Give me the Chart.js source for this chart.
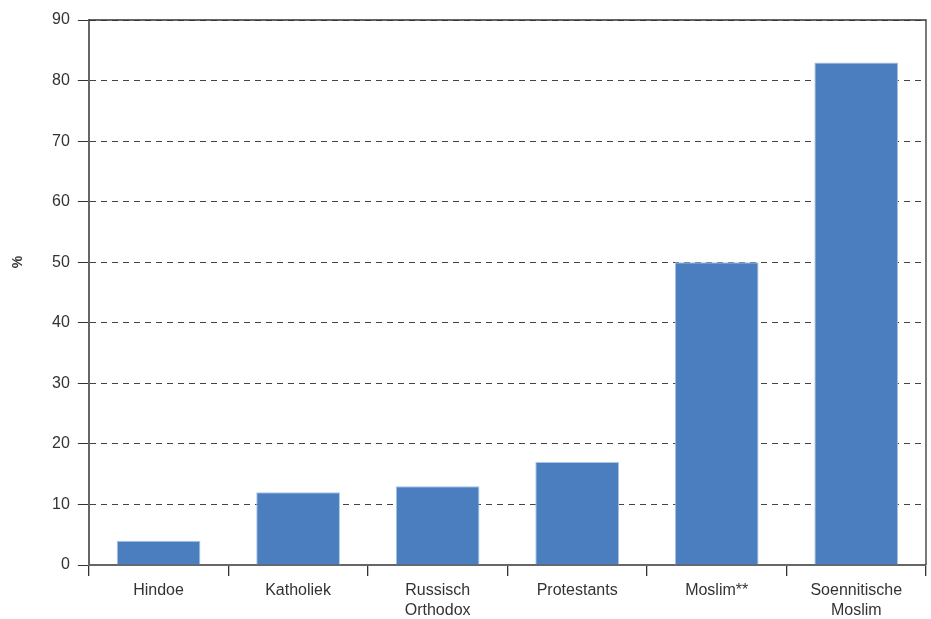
<!DOCTYPE html>
<html>
<head>
<meta charset="utf-8">
<script src="https://cdn.jsdelivr.net/npm/chart.js@4"></script>
<style>
html,body{margin:0;padding:0;background:#fff;}
#wrap{width:931px;height:619px;position:relative;}
</style>
</head>
<body>
<div id="wrap"><canvas id="c" width="931" height="619"></canvas></div>
<script>
const categories = ["Hindoe", "Katholiek", ["Russisch", "Orthodox"], "Protestants", "Moslim**", ["Soennitische", "Moslim"]];
const values = [4, 12, 13, 17, 50, 83];
const yTicks = [0, 10, 20, 30, 40, 50, 60, 70, 80, 90];
const yTitle = "%";

const frame = {
  id: 'frame',
  afterDatasetsDraw(chart) {
    const {ctx, chartArea: a} = chart;
    ctx.save();
    ctx.strokeStyle = '#333';
    ctx.lineWidth = 1.3;
    ctx.beginPath();
    ctx.moveTo(a.left, a.top);
    ctx.lineTo(a.right, a.top);
    ctx.lineTo(a.right, a.bottom);
    ctx.stroke();
    // y axis title
    ctx.translate(18, 262);
    ctx.rotate(-Math.PI / 2);
    ctx.fillStyle = '#333';
    ctx.font = 'bold 14px "Liberation Sans", Arial, sans-serif';
    ctx.textAlign = 'center';
    ctx.textBaseline = 'middle';
    ctx.fillText(yTitle, 0, 0);
    ctx.restore();
  }
};

new Chart(document.getElementById('c'), {
  type: 'bar',
  data: {
    labels: categories,
    datasets: [{
      data: values,
      backgroundColor: '#4a7ebf',
      borderColor: '#a9c4e4',
      borderWidth: 1,
      categoryPercentage: 0.6,
      barPercentage: 1.0
    }]
  },
  options: {
    responsive: false,
    animation: false,
    devicePixelRatio: 1,
    layout: {padding: {top: 20, right: 5, left: 44, bottom: -7}},
    plugins: {legend: {display: false}, tooltip: {enabled: false}},
    scales: {
      x: {
        grid: {offset: true, drawOnChartArea: false, drawTicks: true, tickLength: 11, color: '#333', lineWidth: 1.3},
        border: {display: true, color: '#666', width: 2},
        ticks: {color: '#333', font: {family: 'Liberation Sans, Arial, sans-serif', size: 16, lineHeight: 1.25}, padding: 5, maxRotation: 0, autoSkip: false}
      },
      y: {
        min: 0, max: 90,
        afterBuildTicks(axis) { axis.ticks = yTicks.map(v => ({value: v})); },
        grid: {color: '#444', lineWidth: 1, drawTicks: true, tickLength: 11, tickBorderDash: [], tickColor: '#333'},
        border: {display: true, color: '#666', width: 2, dash: [6, 5]},
        ticks: {color: '#333', font: {family: 'Liberation Sans, Arial, sans-serif', size: 16}, padding: 8}
      }
    }
  },
  plugins: [frame]
});
</script>
</body>
</html>
